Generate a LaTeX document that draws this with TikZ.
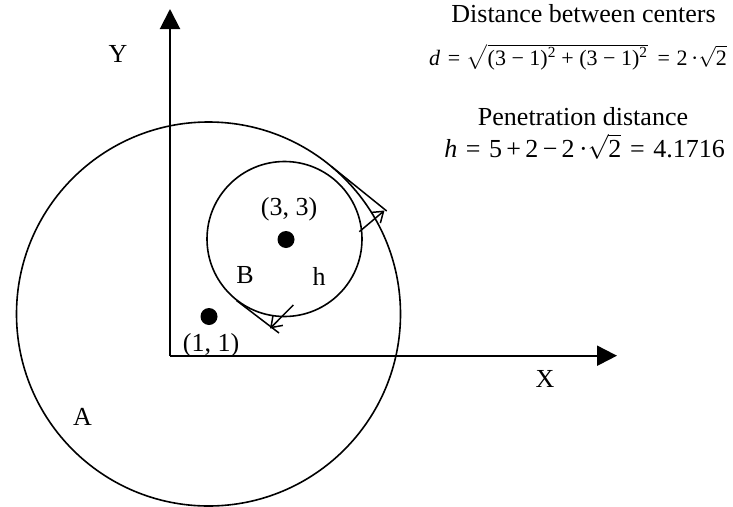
\documentclass[tikz,border=0pt]{standalone}
\usepackage{amsmath}
\usepackage{fontspec}
\setmainfont{Liberation Serif}
\usetikzlibrary{arrows.meta}
\tikzset{
  lbl/.style={font=\fontsize{26}{29}\selectfont, anchor=base, inner sep=0pt},
  head/.style={font=\fontsize{26}{30}\selectfont, anchor=base, inner sep=0pt},
  axis/.style={line width=2pt, -{Triangle[length=20pt,width=20pt]}},
  ring/.style={line width=1.6pt},
  pen/.style={line width=1.5pt, -{Straight Barb[length=10pt,width=14pt]}},
  tang/.style={line width=1.5pt},
  dot/.style={circle, fill=black, minimum size=17pt, inner sep=0pt}
}
\begin{document}
\begin{tikzpicture}[x=1pt,y=-1pt]
\useasboundingbox (0,0) rectangle (733,506);
% axes
\coordinate (O) at (170,355.7);
\coordinate (Yend) at (170,9);
\coordinate (Xend) at (617,355.7);
\draw[axis] (O) -- (Yend);
\draw[axis] (O) -- (Xend);
% circles
\coordinate (ca) at (208.5,314);
\coordinate (cb) at (284.5,239);
\draw[ring] (ca) circle[radius=192];
\draw[ring] (cb) circle[radius=77.5];
\node[dot] (da) at (209,316.5) {};
\node[dot] (db) at (286,239.5) {};
% tangent lines
\coordinate (tA1) at (331.5,166.5);
\coordinate (tA2) at (386.7,211);
\draw[tang] (tA1) -- (tA2);
\coordinate (tB1) at (236.5,300.5);
\coordinate (tB2) at (279,333);
\draw[tang] (tB1) -- (tB2);
% penetration arrows
\coordinate (p1s) at (359.3,231.7);
\coordinate (p1e) at (384.5,210.5);
\draw[pen] (p1s) -- (p1e);
\coordinate (p2s) at (293.3,305);
\coordinate (p2e) at (270,328.5);
\draw[pen] (p2s) -- (p2e);
% labels
\node[lbl] (Y) at (118,62) {Y};
\node[lbl] (X) at (545,387) {X};
\node[lbl] (A) at (82.5,425) {A};
\node[lbl] (B) at (245,283) {B};
\node[lbl] (h) at (319,285) {h};
\node[lbl] (l33) at (289,215) {(3, 3)};
\node[lbl] (l11) at (211,351) {(1, 1)};
% formulas
\node[head] (t1) at (583.5,23) {Distance between centers};
\node[font=\fontsize{22}{24}\selectfont, anchor=base east, inner sep=0pt] (f1) at (727,65)
  {\textit{d}\hspace{0.35em}=\hspace{0.3em}$\sqrt{\mbox{(3 − 1)\textsuperscript{2} + (3 − 1)\textsuperscript{2}}}$\hspace{0.45em}=\hspace{0.3em}2\,·$\sqrt{\mbox{2}}$};
\node[head] (t2) at (583,125) {Penetration distance};
\node[font=\fontsize{26}{29}\selectfont, anchor=base east, inner sep=0pt] (f2) at (725,157)
  {\textit{h}\hspace{0.33em}=\hspace{0.33em}5\,+\,2\,−\,2\,·$\sqrt{\mbox{2}}$\hspace{0.33em}=\hspace{0.33em}4.1716};
\end{tikzpicture}
\end{document}
